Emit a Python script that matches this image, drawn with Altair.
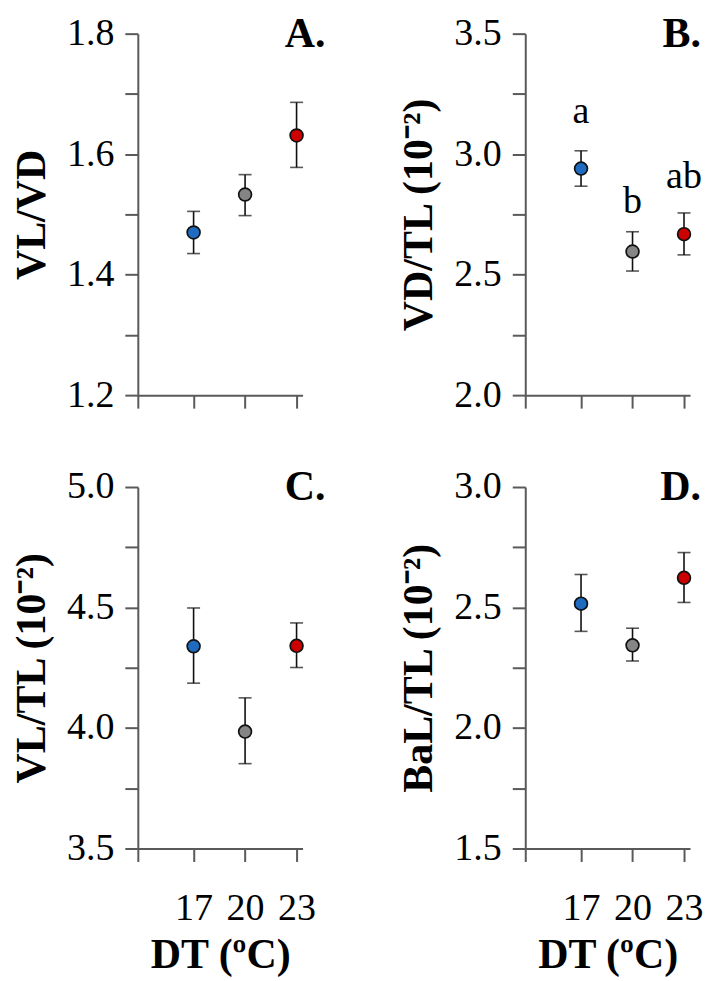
import altair as alt
import pandas as pd

temps = [17, 20, 23]
colors = ["#1f6bc0", "#858585", "#cc0000"]

# Panel A: VL/VD
a_mean = [1.470, 1.533, 1.631]
a_lo = [1.435, 1.498, 1.578]
a_hi = [1.505, 1.566, 1.686]

# Panel B: VD/TL (10^-2)
b_mean = [2.940, 2.596, 2.668]
b_lo = [2.867, 2.515, 2.582]
b_hi = [3.014, 2.678, 2.756]
b_letters = ["a", "b", "ab"]
b_letter_y = [3.13, 2.755, 2.858]

# Panel C: VL/TL (10^-2)
c_mean = [4.339, 3.985, 4.341]
c_lo = [4.186, 3.852, 4.251]
c_hi = [4.498, 4.125, 4.436]

# Panel D: BaL/TL (10^-2)
d_mean = [2.516, 2.343, 2.623]
d_lo = [2.401, 2.278, 2.521]
d_hi = [2.637, 2.414, 2.728]

x_ticks = [13.75, 17, 20, 23]
x_domain = [13.75, 23.35]

W = 165
H = 362
FONT = "Liberation Serif"


def panel(mean, lo, hi, dom, ticks, majors, ytitle, tag, tag_dx, bottom,
          letters=None, letter_y=None):
    df = pd.DataFrame({"t": temps, "m": mean, "lo": lo, "hi": hi, "c": colors})
    if letters is not None:
        df["lab"] = letters
        df["ly"] = letter_y

    xaxis_kw = dict(values=x_ticks, labelOverlap=False, labelFlush=False)
    if bottom:
        xaxis_kw.update(labels=True, labelExpr="datum.value < 15 ? '' : datum.label",
                        title="DT (ºC)")
    else:
        xaxis_kw.update(labels=False, title="")
    xaxis = alt.Axis(**xaxis_kw)
    xenc = alt.X("t:Q", scale=alt.Scale(domain=x_domain, nice=False, zero=False), axis=xaxis)

    major_list = "[" + ",".join("'%s'" % m for m in majors) + "]"
    yaxis = alt.Axis(values=ticks, title=ytitle, labelOverlap=False,
                     labelExpr="indexof(%s, format(datum.value, '.1f')) >= 0 ? format(datum.value, '.1f') : ''" % major_list)
    yscale = alt.Scale(domain=dom, nice=False, zero=False)

    base = alt.Chart(df)
    rule = base.mark_rule(color="#111", strokeWidth=1.6).encode(
        x=xenc, y=alt.Y("lo:Q", scale=yscale, axis=yaxis), y2="hi:Q")
    cap_lo = base.mark_tick(orient="horizontal", color="#111", size=13, thickness=1.6).encode(
        x=xenc, y=alt.Y("lo:Q", scale=yscale, axis=yaxis))
    cap_hi = base.mark_tick(orient="horizontal", color="#111", size=13, thickness=1.6).encode(
        x=xenc, y=alt.Y("hi:Q", scale=yscale, axis=yaxis))
    pts = base.mark_point(filled=True, size=165, stroke="#111", strokeWidth=1.7, opacity=1).encode(
        x=xenc, y=alt.Y("m:Q", scale=yscale, axis=yaxis),
        fill=alt.Fill("c:N", scale=None))
    tagc = alt.Chart(pd.DataFrame({"tag": [tag]})).mark_text(
        font=FONT, fontSize=42, fontWeight="bold", align="right", baseline="middle", color="black"
    ).encode(x=alt.value(W + tag_dx), y=alt.value(0), text="tag:N")
    layers = [rule, cap_lo, cap_hi, pts, tagc]
    if letters is not None:
        lt = base.mark_text(font=FONT, fontSize=38, baseline="alphabetic", align="center", color="black").encode(
            x=xenc, y=alt.Y("ly:Q", scale=yscale, axis=yaxis), text="lab:N")
        layers.append(lt)
    return alt.layer(*layers).properties(width=W, height=H)


A = panel(a_mean, a_lo, a_hi, [1.2, 1.8], [1.2, 1.3, 1.4, 1.5, 1.6, 1.7, 1.8],
          ["1.2", "1.4", "1.6", "1.8"], "VL/VD", "A.", 23, False)
B = panel(b_mean, b_lo, b_hi, [2.0, 3.5], [2.0, 2.25, 2.5, 2.75, 3.0, 3.25, 3.5],
          ["2.0", "2.5", "3.0", "3.5"], "VD/TL (10⁻²)", "B.", 11, False,
          b_letters, b_letter_y)
C = panel(c_mean, c_lo, c_hi, [3.5, 5.0], [3.5, 3.75, 4.0, 4.25, 4.5, 4.75, 5.0],
          ["3.5", "4.0", "4.5", "5.0"], "VL/TL (10⁻²)", "C.", 23, True)
D = panel(d_mean, d_lo, d_hi, [1.5, 3.0], [1.5, 1.75, 2.0, 2.25, 2.5, 2.75, 3.0],
          ["1.5", "2.0", "2.5", "3.0"], "BaL/TL (10⁻²)", "D.", 11, True)

chart = alt.vconcat(
    alt.hconcat(A, B, spacing=71),
    alt.hconcat(C, D, spacing=71),
    spacing=50,
).properties(
    padding={"left": 2, "top": 3, "right": 0, "bottom": 0}
).configure_view(
    stroke="transparent"
).configure_axis(
    domainColor="#5a5a5a", domainWidth=2, tickColor="#5a5a5a", tickWidth=2, tickSize=13,
    labelFont=FONT, labelFontSize=38, labelColor="black",
    titleFont=FONT, titleFontSize=42, titleFontWeight="bold", titleColor="black",
    grid=False,
).configure_axisX(
    labelPadding=28, titlePadding=7
).configure_axisY(
    labelPadding=11, titlePadding=13
)

chart.save("out.html", embed_options={"renderer": "svg", "actions": False})
